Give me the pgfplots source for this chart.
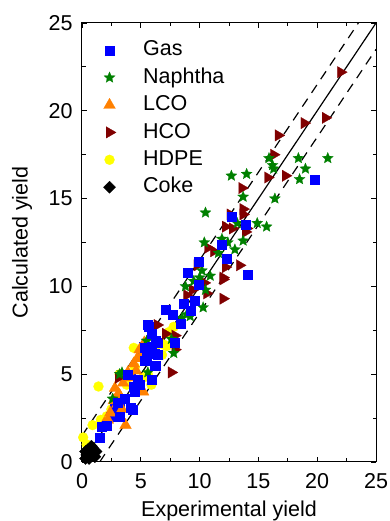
\documentclass[border=0pt]{standalone}
\usepackage{fontspec}
\setmainfont{Liberation Sans}
\usepackage{pgfplots}
\pgfplotsset{compat=1.18}
\definecolor{gasblue}{RGB}{0,0,255}
\definecolor{naphgreen}{RGB}{0,128,0}
\definecolor{lcoorange}{RGB}{255,128,0}
\definecolor{hcored}{RGB}{128,0,0}
\definecolor{hdpeyellow}{RGB}{255,255,0}
\pgfdeclareplotmark{fstar}{%
 \pgfpathmoveto{\pgfpointpolar{90}{\pgfplotmarksize}}%
 \pgfpathlineto{\pgfpointpolar{126}{0.45\pgfplotmarksize}}%
 \pgfpathlineto{\pgfpointpolar{162}{\pgfplotmarksize}}%
 \pgfpathlineto{\pgfpointpolar{198}{0.45\pgfplotmarksize}}%
 \pgfpathlineto{\pgfpointpolar{234}{\pgfplotmarksize}}%
 \pgfpathlineto{\pgfpointpolar{270}{0.45\pgfplotmarksize}}%
 \pgfpathlineto{\pgfpointpolar{306}{\pgfplotmarksize}}%
 \pgfpathlineto{\pgfpointpolar{342}{0.45\pgfplotmarksize}}%
 \pgfpathlineto{\pgfpointpolar{18}{\pgfplotmarksize}}%
 \pgfpathlineto{\pgfpointpolar{54}{0.45\pgfplotmarksize}}%
 \pgfpathclose
 \pgfusepathqfillstroke}
\pgfplotsset{
 gasst/.style={only marks, mark=square*, mark size=4.5pt, mark options={draw=gasblue, fill=gasblue, line width=0.2pt}},
 naphst/.style={only marks, mark=fstar, mark size=5.8pt, mark options={draw=naphgreen, fill=naphgreen, line width=0.2pt}},
 lcost/.style={only marks, mark=triangle*, mark size=6.8pt, mark options={draw=lcoorange, fill=lcoorange, line width=0.2pt}},
 hcost/.style={only marks, mark=triangle*, mark size=6.6pt, mark options={draw=hcored, fill=hcored, rotate=-90, line width=0.2pt}},
 hdpest/.style={only marks, mark=*, mark size=5pt, mark options={draw=hdpeyellow, fill=hdpeyellow, line width=0.2pt}},
 cokest/.style={only marks, mark=square*, mark size=4.3pt, mark options={draw=black, fill=black, rotate=45, line width=0.2pt}},
}
\begin{document}
\fontsize{21.5}{25}\selectfont
\begin{tikzpicture}
\useasboundingbox (-82pt,-59pt) rectangle (307pt,462pt);
\begin{axis}[
 scale only axis,
 width=294pt, height=439pt,
 xmin=0, xmax=25, ymin=0, ymax=25,
 xtick={0,5,...,25}, ytick={0,5,...,25},
 minor tick num=1,
 tick align=inside,
 major tick length=5pt, minor tick length=3.5pt,
 tick style={black, line width=0.9pt},
 axis line style={black, line width=1pt},
 every tick label/.append style={font=\fontsize{21.5}{25}\selectfont},
 /pgf/number format/assume math mode=true,
 xticklabel style={yshift=-4pt},
 yticklabel style={xshift=-2pt},
 xlabel={Experimental yield},
 ylabel={Calculated yield},
 label style={font=\fontsize{21.5}{25}\selectfont},
 xlabel style={yshift=2pt},
 ylabel style={yshift=2pt},
 legend style={draw=none, fill=none, at={(rel axis cs:0.073,0.961)}, anchor=north west,
   inner sep=0pt, outer sep=0pt, font=\fontsize{21.5}{25}\selectfont,
   nodes={inner sep=0pt, text height=15.7pt, text depth=4.5pt},
   row sep=7.2pt, column sep=27pt},
 legend cell align=left,
 clip=true,
]
\addlegendimage{gasst}\addlegendentry{Gas}
\addlegendimage{naphst}\addlegendentry{Naphtha}
\addlegendimage{lcost}\addlegendentry{LCO}
\addlegendimage{hcost}\addlegendentry{HCO}
\addlegendimage{hdpest}\addlegendentry{HDPE}
\addlegendimage{cokest}\addlegendentry{Coke}

% HDPE
\addplot[hdpest, forget plot] coordinates {
(7.8,7.7) (7.2,6.6) (4.4,6.5) (3.2,5.0) (1.4,4.3) (5.9,4.4) (6.8,6.1)
(0.9,2.1) (0.1,1.4) (2.1,2.6) (6.9,6.7) (7.4,7.4) (6.2,6.4) (2.5,3.0)
(1.6,2.4) (5.2,4.8) (3.8,4.4) (0.4,1.0) (4.5,5.4) (5.6,5.0)
};
% Gas (background group)
\addplot[gasst, forget plot] coordinates {
(5.6,7.8) (5.2,6.6) (6.4,6.8) (6.2,6.2) (5.1,6.0) (6.3,5.5) (4.1,5.0)
(4.7,4.6) (3.2,3.2) (2.8,3.1) (2.4,2.6)
};
% LCO
\addplot[lcost, forget plot] coordinates {
(4.4,5.6) (4.7,5.9) (3.1,3.9) (2.7,3.5) (3.7,2.1) (2.4,2.8) (2.8,4.2)
(4.9,6.4) (3.9,5.1) (3.2,3.8) (5.3,6.8) (4.2,4.8) (3.5,4.5) (2.2,2.4)
(3.4,3.0) (4.6,5.2) (5.0,6.0) (3.0,3.3) (1.9,2.2) (4.5,4.2) (5.2,4.0)
};
% HCO
\addplot[hcost, forget plot] coordinates {
(22.0,22.2) (18.9,19.3) (20.7,19.6) (16.7,18.6) (16.3,17.5) (15.8,16.2)
(17.3,16.3) (13.6,15.6) (13.7,14.4) (12.2,13.4) (12.8,13.3) (14.0,13.3)
(12.6,14.1) (13.7,14.1) (13.9,13.1) (10.7,12.2) (12.2,11.1) (13.4,11.2)
(12.0,10.5) (12.0,9.3) (9.8,11.2) (10.6,9.6) (8.9,9.5) (6.4,7.8)
(7.1,7.3) (7.9,7.2) (7.9,6.4) (7.6,5.1) (3.1,4.8) (10.4,10.2) (9.4,9.8)
(11.2,12.0) (12.0,10.4)
};
% Naphtha
\addplot[naphst, forget plot] coordinates {
(15.9,17.3) (16.2,16.9) (16.3,16.7) (18.4,17.3) (20.9,17.3) (19.0,16.7)
(18.5,16.1) (12.7,16.3) (14.0,16.4) (13.7,15.1) (16.4,15.0) (10.5,14.2)
(14.9,13.6) (15.7,13.4) (13.2,13.6) (10.4,12.5) (13.0,12.1) (13.7,12.6)
(12.4,12.5) (11.9,12.7) (11.6,11.9) (10.9,10.6) (10.0,10.5) (8.8,10.0)
(10.5,9.8) (10.3,8.8) (8.9,8.4) (9.2,8.3) (8.5,8.2) (5.5,6.9) (7.8,6.2)
(3.4,5.1) (5.6,5.1) (2.6,3.6) (3.2,5.0) (9.5,10.3) (10.2,10.9) (7.6,7.0)
};
% Gas
\addplot[gasst, forget plot] coordinates {
(19.8,16.1) (12.7,14.0) (13.9,13.5) (11.9,12.4) (12.3,11.6) (14.1,10.7)
(9.9,11.4) (9.0,10.8) (9.9,10.1) (9.6,9.2) (8.6,9.0) (9.2,8.6) (7.1,8.7)
(7.7,8.4) (8.4,7.9) (5.7,7.7) (5.9,7.3) (6.3,6.9) (7.9,6.8) (5.9,6.6)
(5.3,6.5) (5.5,6.0) (6.4,6.1) (5.3,5.8) (6.2,5.5) (5.9,4.7) (3.9,5.0)
(4.7,4.7) (4.4,4.3) (4.9,4.4) (4.5,4.0) (4.1,3.1) (4.3,3.0) (2.1,2.1)
(1.7,2.0) (3.2,2.6) (1.5,1.4) (3.6,3.6) (3.0,3.4)
};
% Coke
\addplot[cokest, forget plot] coordinates {
(0.4,0.4) (0.6,0.5) (0.8,0.6) (1.0,0.5) (0.7,0.3) (0.5,0.7) (0.9,0.8)
(1.2,0.6) (0.3,0.6) (0.6,0.2) (1.1,0.3) (0.8,0.9) (0.3,0.2)
};
% parity lines
\addplot[black, line width=1.2pt, forget plot] coordinates {(0,0) (25,25)};
\addplot[black, line width=1.2pt, dash pattern=on 9.5pt off 7pt, forget plot] coordinates {(0,1.5) (23.5,25)};
\addplot[black, line width=1.2pt, dash pattern=on 9.5pt off 7pt, forget plot] coordinates {(1.5,0) (25,23.5)};
\end{axis}
\end{tikzpicture}
\end{document}
